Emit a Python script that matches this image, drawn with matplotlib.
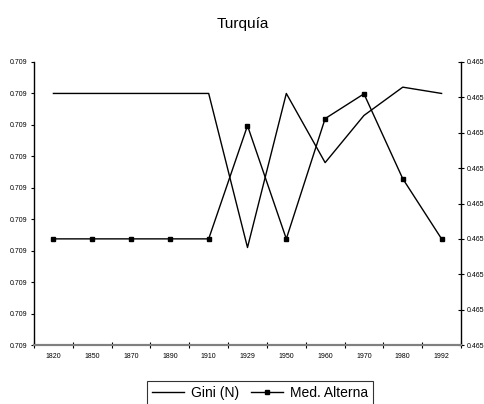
import numpy as np
import matplotlib.pyplot as plt
from matplotlib.ticker import FormatStrFormatter, FixedLocator

plt.rcParams['font.family'] = ['Liberation Sans', 'DejaVu Sans']

# data
years = ['1820', '1850', '1870', '1890', '1910', '1929', '1950', '1960', '1970', '1980', '1992']
gini = [0.709080, 0.709080, 0.709080, 0.709080, 0.709080, 0.709031,
        0.709080, 0.709058, 0.709073, 0.709082, 0.709080]
med_alt = [0.465030, 0.465030, 0.465030, 0.465030, 0.465030, 0.465062,
           0.465030, 0.465064, 0.465071, 0.465047, 0.465030]

fig = plt.figure(figsize=(4.85, 4.04), dpi=100)
ax = fig.add_axes([34 / 485, 1 - 345 / 404, 427 / 485, 283 / 404])
ax2 = ax.twinx()

x = np.arange(len(years))
ax.plot(x, gini, color='black', linewidth=1.0)
ax2.plot(x, med_alt, color='black', linewidth=1.0, marker='s', markersize=3.5)

# left axis
ax.set_xlim(-0.5, len(years) - 0.5)
ax.set_ylim(0.70900, 0.70909)
ax.set_yticks(np.linspace(0.70900, 0.70909, 10))
ax.yaxis.set_major_formatter(FormatStrFormatter('%.3f'))
ax.tick_params(axis='y', direction='out', length=2.5, width=0.8, labelsize=5, pad=2)

# right axis
ax2.set_ylim(0.46500, 0.46508)
ax2.set_yticks(np.linspace(0.46500, 0.46508, 9))
ax2.yaxis.set_major_formatter(FormatStrFormatter('%.3f'))
ax2.tick_params(axis='y', direction='inout', length=4, width=0.8, labelsize=5, pad=2)

# x axis: labels centred, tick marks between categories
ax.set_xticks(x)
ax.set_xticklabels(years)
ax.xaxis.set_minor_locator(FixedLocator(np.arange(-0.5, len(years), 1.0)))
ax.tick_params(axis='x', which='major', length=0, labelsize=5, pad=6)
ax.tick_params(axis='x', which='minor', direction='inout', length=4, width=0.8)

for a in (ax, ax2):
    a.spines['top'].set_visible(False)
    a.spines['bottom'].set_color('#808080')
    a.spines['bottom'].set_linewidth(1.5)
    a.spines['left'].set_linewidth(1.0)
    a.spines['right'].set_linewidth(1.0)
ax.spines['right'].set_visible(False)
ax2.spines['left'].set_visible(False)

fig.text(0.5, 1 - 24 / 404, 'Turquía', ha='center', va='center', fontsize=11)

h1 = ax.get_lines()[0]
h2 = ax2.get_lines()[0]
leg = fig.legend([h1, h2], ['Gini (N)', 'Med. Alterna'], loc='upper center',
                 bbox_to_anchor=(260 / 485, 1 - 381 / 404), ncol=2, fontsize=10,
                 frameon=True, fancybox=False, edgecolor='black', handlelength=2.3,
                 handletextpad=0.5, columnspacing=0.9, borderpad=0.35,
                 borderaxespad=0)
leg.get_frame().set_linewidth(0.8)

fig.savefig('out.png', dpi=100)
